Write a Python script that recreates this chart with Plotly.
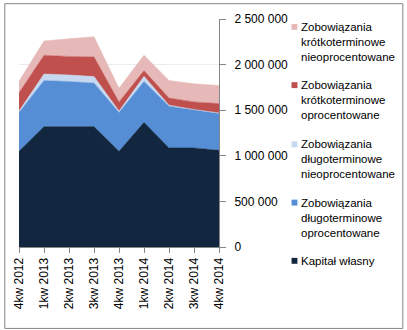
import plotly.graph_objects as go

quarters = ["4kw 2012", "1kw 2013", "2kw 2013", "3kw 2013", "4kw 2013",
            "1kw 2014", "2kw 2014", "3kw 2014", "4kw 2014"]

kapital_wlasny = [1050000, 1320000, 1320000, 1320000, 1050000, 1367000, 1086000, 1086000, 1060000]
dlugo_oprocentowane = [425000, 505000, 495000, 477000, 425000, 448000, 458000, 415000, 404000]
dlugo_nieoprocentowane = [15000, 72000, 71000, 72000, 15000, 57000, 11000, 7000, 6000]
krotko_oprocentowane = [202000, 206000, 203000, 216000, 101000, 62000, 79000, 83000, 103000]
krotko_nieoprocentowane = [126000, 156000, 195000, 220000, 151000, 169000, 191000, 198000, 198000]

series_names = [
    "Kapitał własny",
    "Zobowiązania<br>długoterminowe<br>oprocentowane",
    "Zobowiązania<br>długoterminowe<br>nieoprocentowane",
    "Zobowiązania<br>krótkoterminowe<br>oprocentowane",
    "Zobowiązania<br>krótkoterminowe<br>nieoprocentowane",
]
series_values = [kapital_wlasny, dlugo_oprocentowane, dlugo_nieoprocentowane,
                 krotko_oprocentowane, krotko_nieoprocentowane]
colors = ["#12263f", "#558ed5", "#c6d9f1", "#c0504d", "#e6b9b8"]

y_ticks = [0, 500000, 1000000, 1500000, 2000000, 2500000]

x_idx = list(range(len(quarters)))
fig = go.Figure()
for name, vals, col in zip(series_names, series_values, colors):
    fig.add_trace(go.Scatter(
        x=x_idx, y=vals, name=name.replace("<br>", " "), stackgroup="one",
        mode="lines", line=dict(width=0.5, color=col), fillcolor=col,
        showlegend=False, hoverinfo="skip",
    ))

# Manual legend (paper coordinates relative to plot area)
L, R, T, B = 15, 219, 16, 247
W, H = R - L, B - T
def px(x):
    return (x - L) / W
def py(y):
    return (B - y) / H

legend_tops = [253, 194, 135, 75, 16]  # top y of first text line per series (bottom->top order)
shapes = []
annotations = []
for name, col, ty in zip(series_names, colors, legend_tops):
    shapes.append(dict(type="rect", xref="paper", yref="paper",
                       x0=px(293), x1=px(299), y0=py(ty + 5), y1=py(ty + 11),
                       fillcolor=col, line=dict(width=0)))
    annotations.append(dict(xref="paper", yref="paper", x=px(301), y=py(ty),
                            xanchor="left", yanchor="top", align="left",
                            text=name, showarrow=False,
                            font=dict(size=11.5, color="#000000")))

# outer border
shapes.append(dict(type="rect", xref="paper", yref="paper",
                   x0=px(0.5), x1=px(406.5), y0=py(329.5), y1=py(0.5),
                   line=dict(color="#868686", width=1), fillcolor="rgba(0,0,0,0)", layer="below"))

fig.update_layout(
    width=407, height=330,
    margin=dict(l=L, r=407 - R, t=T, b=330 - B),
    paper_bgcolor="white", plot_bgcolor="white",
    font=dict(family="Liberation Sans, Arial, sans-serif", size=12, color="#000000"),
    separators=", ",
    shapes=shapes, annotations=annotations,
    showlegend=False,
)
fig.update_xaxes(
    range=[0, len(quarters) - 1], tickmode="array", tickvals=x_idx, ticktext=quarters,
    tickangle=-90, ticks="outside", ticklen=5, tickcolor="#868686",
    showline=True, linecolor="#868686", linewidth=1, showgrid=False, zeroline=False,
    tickfont=dict(size=12, color="#000000"),
)
fig.update_yaxes(
    side="right", range=[0, 2500000], tickmode="array", tickvals=y_ticks,
    ticks="outside", ticklen=6, tickcolor="#868686", tickformat=",d",
    ticklabelstandoff=6,
    showline=True, linecolor="#868686", linewidth=1,
    showgrid=True, gridcolor="#ececec", gridwidth=1, zeroline=False,
    tickfont=dict(size=12, color="#000000"),
)

fig.write_html("out.html")
